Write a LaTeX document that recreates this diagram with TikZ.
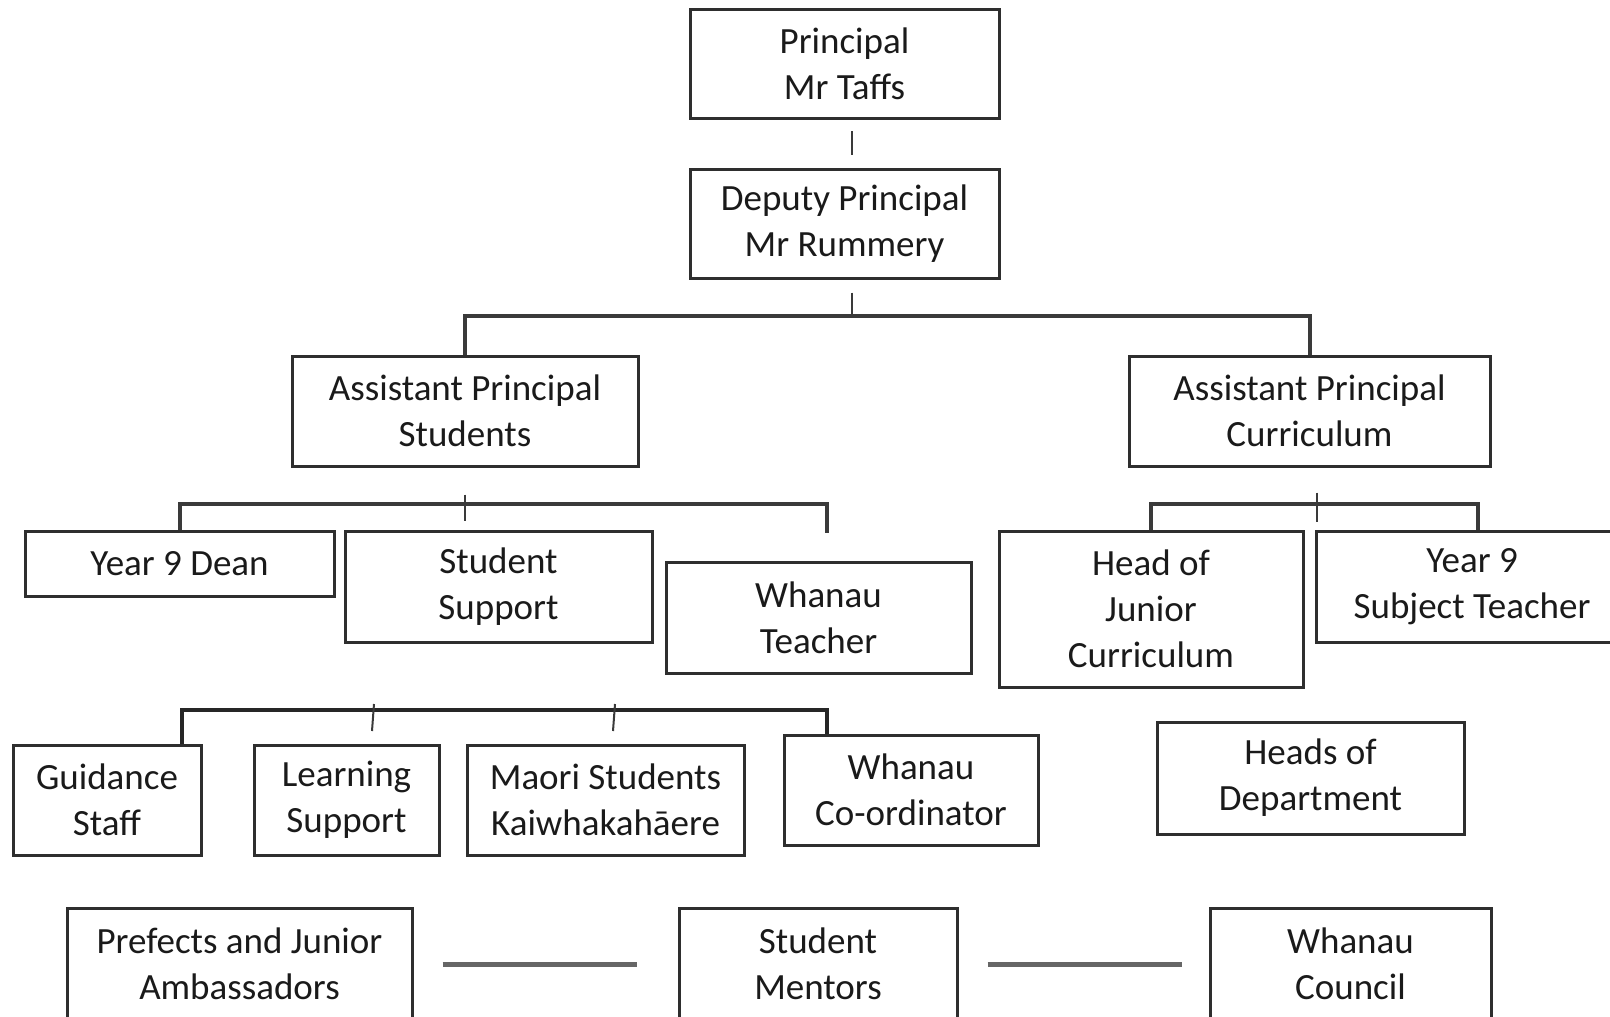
\documentclass[tikz,border=0pt]{standalone}
\usepackage{fontspec}
\setmainfont{Carlito}
\usetikzlibrary{calc}
\definecolor{boxline}{HTML}{2E2E2E}
\definecolor{brk}{HTML}{3A3A3A}
\definecolor{txt}{HTML}{1A1A1A}
\tikzset{
  box/.style={draw=boxline, line width=3pt, rectangle, inner sep=0pt, align=center,
    text=txt, font=\fontsize{37}{46}\selectfont},
  bracket/.style={draw=brk, line width=4pt},
  lowbracket/.style={draw=black!85, line width=4pt},
  tickline/.style={draw=brk, line width=2pt},
  joinline/.style={draw=black!60, line width=5pt}
}
\begin{document}
\begin{tikzpicture}[x=1pt,y=-1pt]
\useasboundingbox (0,0) rectangle (1610,1017);
\clip (0,0) rectangle (1610,1017);
\fill[white] (0,0) rectangle (1610,1017);

\node[box, minimum width=309pt, minimum height=109pt] (principal) at (844.5,64) {Principal\\Mr Taffs};
\node[box, minimum width=309pt, minimum height=109pt] (deputy) at (844.5,223.5) {Deputy Principal\\Mr Rummery};
\node[box, minimum width=346pt, minimum height=110pt] (aps) at (465,411) {Assistant Principal\\Students};
\node[box, minimum width=361pt, minimum height=110pt] (apc) at (1309.5,411) {Assistant Principal\\Curriculum};

\node[box, minimum width=309pt, minimum height=65pt] (dean) at (179.5,563.5) {Year 9 Dean};
\node[box, minimum width=307pt, minimum height=111pt] (ssup) at (498.5,586.5) {Student\\Support};
\node[box, minimum width=305pt, minimum height=111pt] (wteach) at (818.5,617.5) {Whanau\\Teacher};
\node[box, minimum width=304pt, minimum height=156pt] (hojc) at (1151,609) {Head of\\Junior\\Curriculum};
\node[box, minimum width=312pt, minimum height=111pt] (y9st) at (1472,586.5) {Year 9\\Subject Teacher};

\node[box, minimum width=188pt, minimum height=110pt] (guidance) at (107,800) {Guidance\\Staff};
\node[box, minimum width=185pt, minimum height=110pt] (lsup) at (346.5,800) {Learning\\Support};
\node[box, minimum width=277pt, minimum height=110pt] (maori) at (605.5,800) {Maori Students\\Kaiwhakahāere};
\node[box, minimum width=254pt, minimum height=110pt] (wco) at (911,790) {Whanau\\Co-ordinator};
\node[box, minimum width=307pt, minimum height=112pt] (hod) at (1310.5,778) {Heads of\\Department};

\node[box, minimum width=345pt, minimum height=112pt] (prefects) at (239.5,964) {Prefects and Junior\\Ambassadors};
\node[box, minimum width=278pt, minimum height=112pt] (mentors) at (818,964) {Student\\Mentors};
\node[box, minimum width=281pt, minimum height=112pt] (council) at (1350.5,964) {Whanau\\Council};

% ticks between principal and deputy
\draw[tickline] ($(principal.south)+(7,11)$) -- ($(deputy.north)+(7,-13)$);
\draw[tickline] ($(deputy.south)+(7,13)$) -- ($(deputy.south)+(7,38)$);

% deputy bracket
\draw[bracket] (aps.north) -- ++(0,-39) -| (apc.north);

% students bracket
\coordinate (sbr) at (827,504);
\draw[bracket] (dean.north) |- (sbr) -- ++(0,29);
\draw[tickline] ($(aps.south)+(0,27)$) -- ++(0,26);

% curriculum bracket
\coordinate (cbr) at (1478,504);
\draw[bracket] (hojc.north) |- (cbr) -- (y9st.north -| cbr);
\draw[tickline] ($(apc.south)+(7,25)$) -- ++(0,29);

% lower bracket
\coordinate (lbl) at (182,710);
\coordinate (lbr) at (827,710);
\draw[lowbracket] (guidance.north -| lbl) -- (lbl) -- (lbr) -- (wco.north -| lbr);
\draw[tickline] (374,704) -- (372,731);
\draw[tickline] (615,704) -- (613,731);

% joins on bottom row
\draw[joinline] ($(prefects.east)+(29,0)$) -- ($(mentors.west)+(-41,0)$);
\draw[joinline] ($(mentors.east)+(29,0)$) -- ($(council.west)+(-27,0)$);
\end{tikzpicture}
\end{document}
